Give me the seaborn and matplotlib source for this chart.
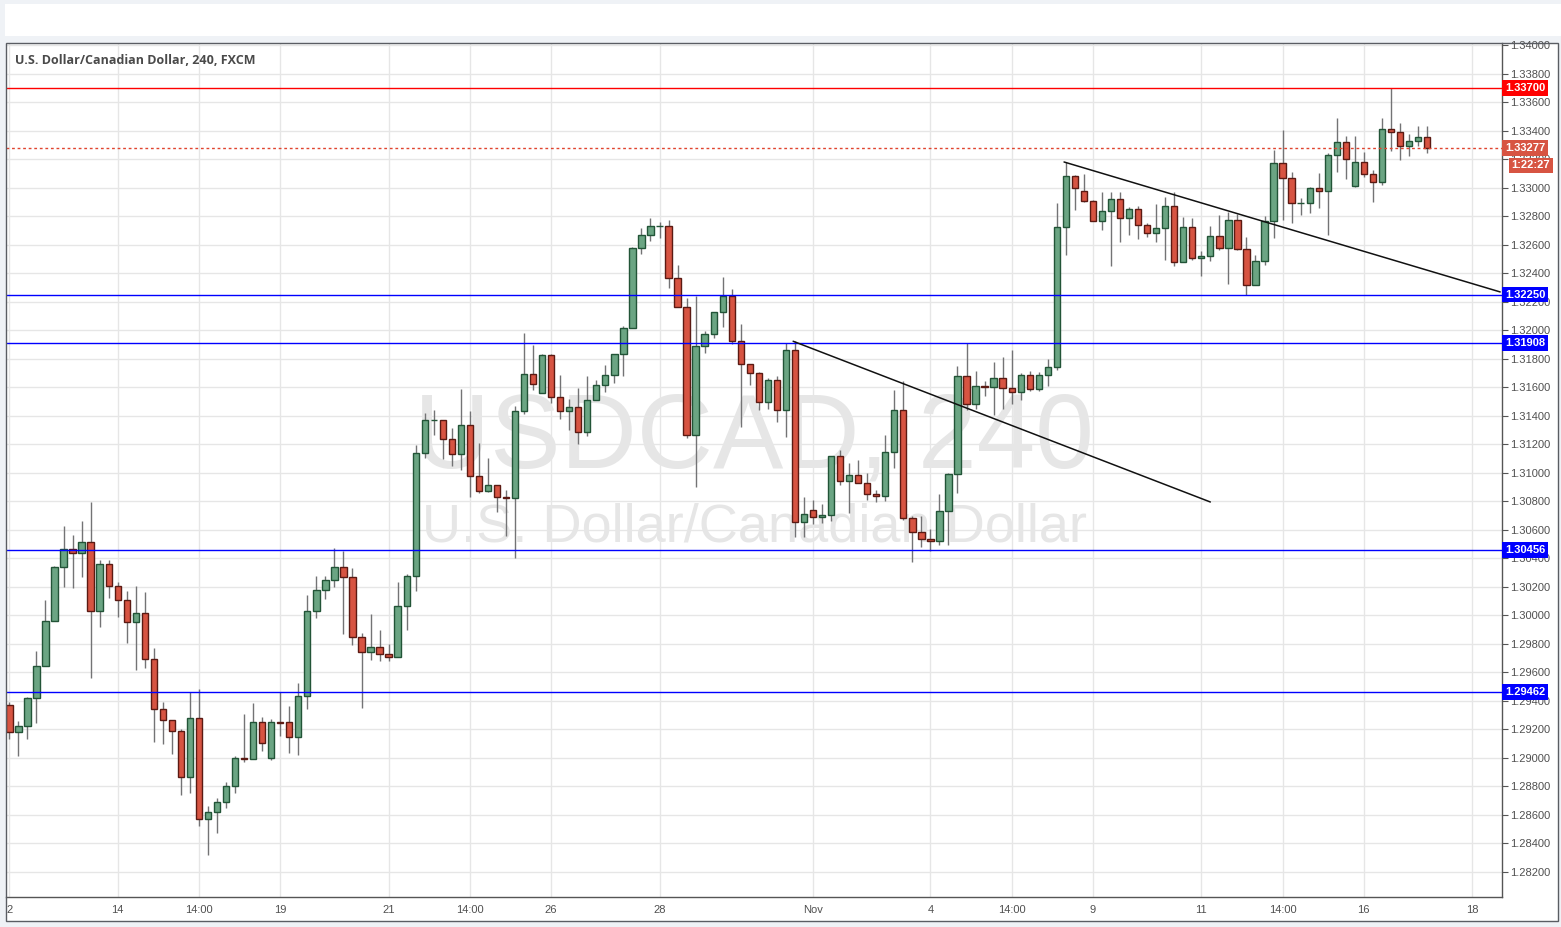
import matplotlib
matplotlib.use("Agg")
import matplotlib.pyplot as plt
from matplotlib.patches import Rectangle
import numpy as np
import pandas as pd
import seaborn as sns

# USD/CAD 4h candles (index 0 = first visible bar)
opens = [
    1.29368, 1.29178, 1.29221, 1.29417, 1.29642, 1.29957, 1.30336, 1.30462, 1.30434, 1.30512,
    1.30027, 1.30357, 1.30203, 1.30105, 1.29950, 1.30013, 1.29691, 1.29340, 1.29263, 1.29185,
    1.28863, 1.29277, 1.28568, 1.28617, 1.28687, 1.28800, 1.29000, 1.28990, 1.29248, 1.29000,
    1.29248, 1.29248, 1.29148, 1.29431, 1.30027, 1.30175, 1.30245, 1.30336, 1.30266, 1.29845,
    1.29740, 1.29775, 1.29726, 1.29705, 1.30062, 1.30273, 1.31135, 1.31369, 1.31372, 1.31234,
    1.31128, 1.31332, 1.30976, 1.30869, 1.30911, 1.30827, 1.30820, 1.31430, 1.31690, 1.31556,
    1.31823, 1.31528, 1.31430, 1.31458, 1.31283, 1.31507, 1.31613, 1.31683, 1.31830, 1.32014,
    1.32575, 1.32666, 1.32729, 1.32729, 1.32364, 1.32161, 1.31263, 1.31887, 1.31971, 1.32126,
    1.32238, 1.31922, 1.31761, 1.31698, 1.31494, 1.31649, 1.31438, 1.31859, 1.30651, 1.30736,
    1.30687, 1.30701, 1.31115, 1.30939, 1.30981, 1.30925, 1.30848, 1.30834, 1.31143, 1.31437,
    1.30680, 1.30581, 1.30537, 1.30518, 1.30729, 1.30988, 1.31676, 1.31479, 1.31606, 1.31600,
    1.31663, 1.31592, 1.31564, 1.31684, 1.31585, 1.31684, 1.31740, 1.32722, 1.33080, 1.32975,
    1.32905, 1.32764, 1.32835, 1.32919, 1.32785, 1.32849, 1.32736, 1.32680, 1.32715, 1.32870,
    1.32477, 1.32722, 1.32505, 1.32519, 1.32659, 1.32575, 1.32771, 1.32568, 1.32315, 1.32484,
    1.32764, 1.33171, 1.33066, 1.32891, 1.32891, 1.32996, 1.32975, 1.33227, 1.33319, 1.33010,
    1.33178, 1.33094, 1.33038, 1.33410, 1.33389, 1.33291, 1.33326, 1.33354,
]
highs = [
    1.29387, 1.29258, 1.29429, 1.29749, 1.30107, 1.30346, 1.30626, 1.30563, 1.30661, 1.30795,
    1.30388, 1.30388, 1.30233, 1.30170, 1.30205, 1.30163, 1.29770, 1.29391, 1.29263, 1.29199,
    1.29464, 1.29482, 1.28661, 1.28720, 1.28830, 1.29012, 1.29309, 1.29384, 1.29283, 1.29272,
    1.29459, 1.29363, 1.29522, 1.30142, 1.30275, 1.30275, 1.30472, 1.30453, 1.30329, 1.29873,
    1.30009, 1.29896, 1.29798, 1.30233, 1.30287, 1.31194, 1.31416, 1.31440, 1.31372, 1.31313,
    1.31587, 1.31433, 1.31208, 1.31103, 1.30911, 1.30876, 1.31468, 1.31980, 1.31896, 1.31832,
    1.31832, 1.31685, 1.31517, 1.31594, 1.31678, 1.31648, 1.31758, 1.31830, 1.32030, 1.32582,
    1.32718, 1.32788, 1.32760, 1.32774, 1.32456, 1.32224, 1.32238, 1.31997, 1.32126, 1.32371,
    1.32287, 1.32044, 1.31761, 1.31705, 1.31663, 1.31677, 1.31908, 1.31924, 1.30832, 1.30808,
    1.30780, 1.31115, 1.31159, 1.31065, 1.31086, 1.30995, 1.30876, 1.31262, 1.31578, 1.31641,
    1.30694, 1.30694, 1.30602, 1.30848, 1.30995, 1.31746, 1.31910, 1.31711, 1.31646, 1.31777,
    1.31812, 1.31859, 1.31698, 1.31712, 1.31705, 1.31798, 1.32893, 1.33178, 1.33087, 1.33094,
    1.32912, 1.32968, 1.32968, 1.32968, 1.32863, 1.32870, 1.32750, 1.32886, 1.32935, 1.32968,
    1.32795, 1.32788, 1.32554, 1.32732, 1.32806, 1.32827, 1.32813, 1.32652, 1.32526, 1.32799,
    1.33263, 1.33403, 1.33108, 1.32926, 1.33003, 1.33101, 1.33241, 1.33487, 1.33361, 1.33361,
    1.33251, 1.33125, 1.33487, 1.33700, 1.33452, 1.33375, 1.33431, 1.33431,
]
lows = [
    1.29129, 1.29008, 1.29129, 1.29246, 1.29642, 1.29957, 1.30194, 1.30187, 1.30271, 1.29562,
    1.29920, 1.30119, 1.29990, 1.29801, 1.29618, 1.29632, 1.29113, 1.29099, 1.29029, 1.28736,
    1.28755, 1.28523, 1.28320, 1.28474, 1.28650, 1.28750, 1.28970, 1.28990, 1.29050, 1.28984,
    1.29155, 1.29036, 1.29015, 1.29344, 1.29983, 1.30116, 1.30196, 1.29871, 1.29791, 1.29351,
    1.29688, 1.29681, 1.29681, 1.29705, 1.29899, 1.30168, 1.31105, 1.31264, 1.31093, 1.31049,
    1.31021, 1.30831, 1.30855, 1.30862, 1.30726, 1.30558, 1.30401, 1.31414, 1.31582, 1.31556,
    1.31491, 1.31374, 1.31299, 1.31203, 1.31259, 1.31507, 1.31563, 1.31627, 1.31681, 1.32014,
    1.32537, 1.32629, 1.32650, 1.32299, 1.32161, 1.31246, 1.30898, 1.31843, 1.31948, 1.32025,
    1.31901, 1.31323, 1.31614, 1.31443, 1.31450, 1.31352, 1.31253, 1.30551, 1.30551, 1.30637,
    1.30649, 1.30663, 1.30911, 1.30719, 1.30925, 1.30810, 1.30794, 1.30803, 1.31030, 1.30665,
    1.30375, 1.30481, 1.30448, 1.30490, 1.30490, 1.30855, 1.31437, 1.31444, 1.31541, 1.31403,
    1.31445, 1.31480, 1.31508, 1.31571, 1.31571, 1.31607, 1.31719, 1.32526, 1.32846, 1.32898,
    1.32764, 1.32704, 1.32453, 1.32622, 1.32671, 1.32638, 1.32652, 1.32622, 1.32495, 1.32449,
    1.32477, 1.32491, 1.32378, 1.32484, 1.32561, 1.32322, 1.32561, 1.32245, 1.32315, 1.32456,
    1.32645, 1.32771, 1.32750, 1.32806, 1.32820, 1.32856, 1.32666, 1.33108, 1.33059, 1.33003,
    1.33073, 1.32900, 1.33017, 1.33256, 1.33192, 1.33220, 1.33291, 1.33241,
]
closes = [
    1.29178, 1.29221, 1.29417, 1.29642, 1.29957, 1.30336, 1.30462, 1.30434, 1.30512, 1.30027,
    1.30357, 1.30203, 1.30105, 1.29950, 1.30013, 1.29691, 1.29340, 1.29263, 1.29185, 1.28863,
    1.29277, 1.28568, 1.28617, 1.28687, 1.28800, 1.29000, 1.28990, 1.29248, 1.29101, 1.29248,
    1.29245, 1.29148, 1.29431, 1.30027, 1.30175, 1.30245, 1.30336, 1.30266, 1.29845, 1.29740,
    1.29775, 1.29726, 1.29705, 1.30062, 1.30273, 1.31135, 1.31369, 1.31372, 1.31234, 1.31128,
    1.31332, 1.30976, 1.30869, 1.30911, 1.30827, 1.30820, 1.31430, 1.31690, 1.31620, 1.31823,
    1.31528, 1.31430, 1.31458, 1.31283, 1.31507, 1.31613, 1.31683, 1.31830, 1.32014, 1.32575,
    1.32666, 1.32729, 1.32731, 1.32364, 1.32161, 1.31263, 1.31887, 1.31971, 1.32126, 1.32238,
    1.31922, 1.31761, 1.31698, 1.31494, 1.31649, 1.31438, 1.31859, 1.30651, 1.30710, 1.30687,
    1.30701, 1.31115, 1.30939, 1.30981, 1.30925, 1.30848, 1.30834, 1.31143, 1.31437, 1.30680,
    1.30581, 1.30537, 1.30518, 1.30729, 1.30988, 1.31676, 1.31479, 1.31606, 1.31600, 1.31663,
    1.31592, 1.31564, 1.31684, 1.31585, 1.31684, 1.31740, 1.32722, 1.33080, 1.32996, 1.32905,
    1.32764, 1.32835, 1.32919, 1.32785, 1.32849, 1.32736, 1.32680, 1.32715, 1.32870, 1.32477,
    1.32722, 1.32505, 1.32519, 1.32659, 1.32575, 1.32771, 1.32568, 1.32315, 1.32484, 1.32764,
    1.33171, 1.33066, 1.32891, 1.32895, 1.32996, 1.32975, 1.33227, 1.33319, 1.33199, 1.33178,
    1.33094, 1.33038, 1.33410, 1.33389, 1.33291, 1.33326, 1.33354, 1.33277,
]

tick_pos = [0, 12, 21, 30, 42, 51, 60, 72, 89, 102, 111, 120, 132, 141, 150, 162]
tick_labels = ["2", "14", "14:00", "19", "21", "14:00", "26", "28", "Nov",
               "4", "14:00", "9", "11", "14:00", "16", "18"]

blue_levels = [1.32250, 1.31908, 1.30456, 1.29462]
red_level = 1.33700
last_price = 1.33277
countdown = "1:22:27"

# hand-drawn trend lines (bar index, price)
trend_a_x = [86.8, 133.0]
trend_a_y = [1.31922, 1.30794]
trend_b_x = [116.8, 165.1]
trend_b_y = [1.33180, 1.32268]

df = pd.DataFrame({"open": opens, "high": highs, "low": lows, "close": closes})
df["bar"] = np.arange(len(df))
df["up"] = df["close"] >= df["open"]

sns.set_style("white")
plt.rcParams["font.family"] = ["Liberation Sans", "DejaVu Sans"]

W, H = 1561, 927
fig = plt.figure(figsize=(W / 100, H / 100), dpi=100, facecolor="#eff2f6")
# top toolbar strip and chart panel (behind the axes)
fig.add_artist(Rectangle((5 / W, 1 - 36 / H), 1556 / W, 32 / H, transform=fig.transFigure,
                         fc="white", ec="none", zorder=-2))
fig.add_artist(Rectangle((6 / W, 1 - 921 / H), 1552 / W, 878 / H, transform=fig.transFigure,
                         fc="white", ec="none", zorder=-2))

ax = fig.add_axes([6 / W, 1 - 897 / H, 1496 / W, 854 / H])
ax.set_facecolor("white")

# wicks + bodies
ax.vlines(df["bar"], df["low"], df["high"], color="#737375", lw=1.0, zorder=2)
body_lo = df[["open", "close"]].min(axis=1)
body_h = (df["close"] - df["open"]).abs()
up = df["up"]
ax.bar(df["bar"][up], body_h[up], bottom=body_lo[up], width=0.7,
       color="#6ba583", edgecolor="#225437", lw=1.0, zorder=3)
ax.bar(df["bar"][~up], body_h[~up], bottom=body_lo[~up], width=0.7,
       color="#d75442", edgecolor="#5b1a13", lw=1.0, zorder=3)

# levels
for lvl in blue_levels:
    ax.axhline(lvl, color="#0000ff", lw=1.0, zorder=4)
ax.axhline(red_level, color="#ff0000", lw=1.0, zorder=4)
ax.axhline(last_price, color="#e0442f", lw=1.0, ls=(0, (2, 2)), zorder=4)

sns.lineplot(x=trend_a_x, y=trend_a_y, ax=ax, color="#111111", lw=1.1, zorder=5)
sns.lineplot(x=trend_b_x, y=trend_b_y, ax=ax, color="#111111", lw=1.1, zorder=5)

# watermark
ax.text(0.5, 0.535, "USDCAD, 240", transform=ax.transAxes, ha="center", va="center",
        fontsize=76, color="#e6e6e6", zorder=1)
ax.text(0.5, 0.433, "U.S. Dollar/Canadian Dollar", transform=ax.transAxes, ha="center",
        va="center", fontsize=39, color="#e6e6e6", zorder=1)

ax.set_xlim(-0.37, 165.3)
ax.set_ylim(1.28022, 1.34015)

ax.set_xticks(tick_pos)
ax.set_xticklabels(tick_labels)
yt = np.arange(1.282, 1.3401, 0.002)
ax.set_yticks(yt)
ax.yaxis.set_major_formatter(matplotlib.ticker.FormatStrFormatter("%.5f"))
ax.yaxis.tick_right()
ax.tick_params(axis="both", colors="#555555", labelsize=8, length=4, width=0.8)
ax.tick_params(axis="y", pad=2, labelcolor="#505050")
ax.tick_params(axis="x", pad=2, labelcolor="#505050")
ax.grid(True, color="#e6e6e6", lw=1.0)
ax.set_axisbelow(True)
for s in ["top", "left"]:
    ax.spines[s].set_visible(False)
for s in ["bottom", "right"]:
    ax.spines[s].set_color("#555555")
    ax.spines[s].set_linewidth(1.0)

# panel border on top
fig.add_artist(Rectangle((6 / W, 1 - 921 / H), 1552 / W, 878 / H, transform=fig.transFigure,
                         fc="none", ec="#5a5d63", lw=1, zorder=20))

# price tags on the right scale
def tag(price, text, color, dx=2, dy=0):
    ax.annotate(text, xy=(1, price), xycoords=("axes fraction", "data"),
                xytext=(dx, dy), textcoords="offset points", ha="left", va="center",
                fontsize=8, color="white", fontweight="bold", annotation_clip=False,
                zorder=10,
                bbox=dict(boxstyle="square,pad=0.25", fc=color, ec="none"))

tag(red_level, "1.33700", "#ff0000")
tag(last_price, "1.33277", "#d75442")
tag(last_price, countdown, "#d75442", dx=7, dy=-12.4)
for lvl in blue_levels:
    tag(lvl, f"{lvl:.5f}", "#0000ff")

fig.text(15 / W, 1 - 60 / H, "U.S. Dollar/Canadian Dollar, 240, FXCM", ha="left",
         va="center", fontsize=9, color="#4a4a4a", fontweight="bold",
         family=["Open Sans", "DejaVu Sans"])

fig.savefig("out.png", dpi=100, facecolor=fig.get_facecolor())
